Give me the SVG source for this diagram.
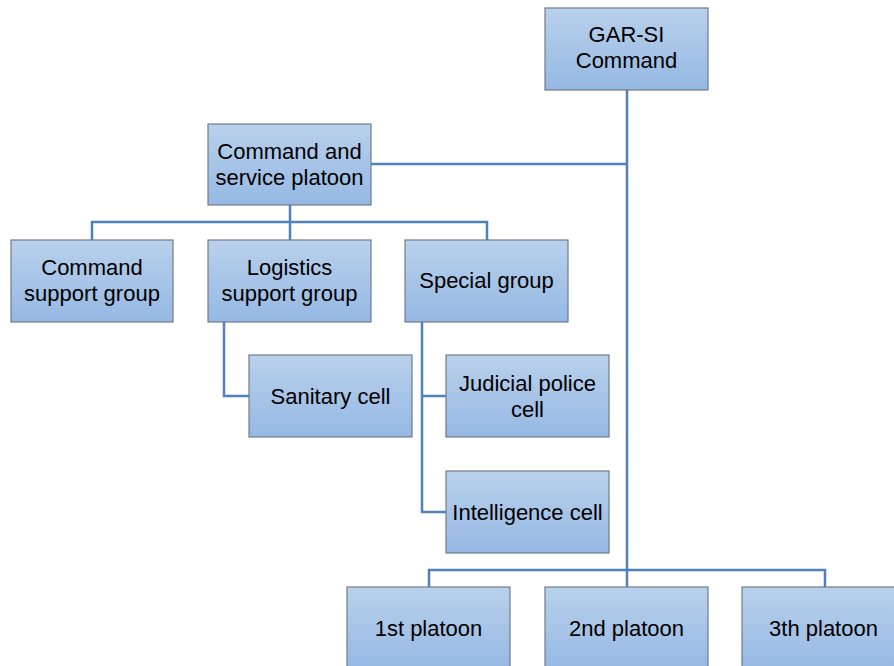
<svg xmlns="http://www.w3.org/2000/svg" width="894" height="666" viewBox="0 0 894 666">
<defs>
<linearGradient id="g" x1="0" y1="0" x2="0" y2="1">
<stop offset="0" stop-color="#b9d1ec"/>
<stop offset="1" stop-color="#95b8e3"/>
</linearGradient>
</defs>
<style>
.box{fill:url(#g);stroke:#717c88;stroke-width:1.2}
.t{font-family:"Liberation Sans",Arial,sans-serif;font-size:22px;fill:#000;text-anchor:middle}
.c{fill:none;stroke:#4f81bd;stroke-width:2.5}
</style>
<rect width="894" height="666" fill="#fff"/>
<g id="connectors">
<path class="c" d="M627,90 V570"/>
<path class="c" d="M371,164 H627"/>
<path class="c" d="M429,587 V570 H825 V587"/>
<path class="c" d="M627,570 V587"/>
<path class="c" d="M290,205 V240"/>
<path class="c" d="M92,240 V222 H487 V240"/>
<path class="c" d="M224,322 V396 H249"/>
<path class="c" d="M422,322 V512 H446"/>
<path class="c" d="M422,396 H446"/>
</g>
<g id="gar-si">
<rect class="box" x="545" y="8" width="163" height="82"/>
<text class="t" x="626.5" y="42">GAR-SI</text>
<text class="t" x="626.5" y="68">Command</text>
</g>
<g id="command-service">
<rect class="box" x="208" y="124" width="163" height="81"/>
<text class="t" x="289.5" y="159">Command and</text>
<text class="t" x="289.5" y="185">service platoon</text>
</g>
<g id="command-support">
<rect class="box" x="11" y="240" width="162" height="82"/>
<text class="t" x="92" y="275">Command</text>
<text class="t" x="92" y="301">support group</text>
</g>
<g id="logistics">
<rect class="box" x="208" y="240" width="163" height="82"/>
<text class="t" x="289.5" y="275">Logistics</text>
<text class="t" x="289.5" y="301">support group</text>
</g>
<g id="special">
<rect class="box" x="405" y="240" width="163" height="82"/>
<text class="t" x="486.5" y="288">Special group</text>
</g>
<g id="sanitary">
<rect class="box" x="249" y="355" width="163" height="82"/>
<text class="t" x="330.5" y="404">Sanitary cell</text>
</g>
<g id="judicial">
<rect class="box" x="446" y="355" width="163" height="82"/>
<text class="t" x="527.5" y="391">Judicial police</text>
<text class="t" x="527.5" y="417">cell</text>
</g>
<g id="intelligence">
<rect class="box" x="446" y="471" width="163" height="82"/>
<text class="t" x="527.5" y="520">Intelligence cell</text>
</g>
<g id="p1">
<rect class="box" x="347" y="587" width="163" height="82"/>
<text class="t" x="428.5" y="636">1st platoon</text>
</g>
<g id="p2">
<rect class="box" x="545" y="587" width="163" height="82"/>
<text class="t" x="626.5" y="636">2nd platoon</text>
</g>
<g id="p3">
<rect class="box" x="742" y="587" width="163" height="82"/>
<text class="t" x="823.5" y="636">3th platoon</text>
</g>
</svg>
